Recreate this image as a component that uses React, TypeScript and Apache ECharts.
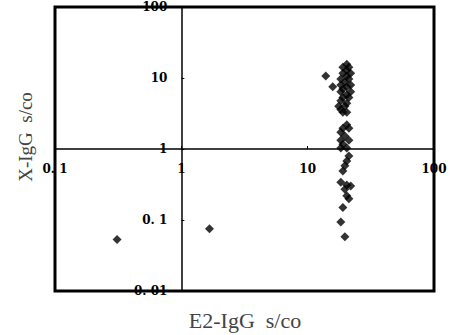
import React, { useEffect, useRef } from "react";
import * as echarts from "echarts";

const xTickLabels = ["0. 1", "1", "10", "100"];
const yTickLabels = ["0. 01", "0. 1", "1", "10", "100"];

// E2-IgG s/co values
const e2Values = [
  0.31, 1.67, 13.9, 15.8,
  20.4, 19.0, 21.2, 20.4, 19.0, 21.9, 20.4, 18.3, 21.2, 19.7, 21.9, 18.3, 20.4, 19.0, 21.9, 18.3,
  20.4, 19.0, 21.2, 18.3, 20.4, 17.6, 19.7, 18.3, 19.0, 20.4,
  20.4, 19.0, 21.2, 18.3, 19.7, 18.3, 21.2, 19.0, 20.4, 18.3,
  21.2, 20.4, 19.7, 19.0, 18.3, 20.4, 21.9, 19.7, 20.4, 21.2, 19.0, 18.3, 19.7,
];
// X-IgG s/co values
const xValues = [
  0.053, 0.075, 10.7, 7.5,
  15.6, 14.2, 14.2, 12.9, 11.7, 11.7, 10.7, 9.7, 9.7, 8.8, 8.0, 8.0, 7.5, 7.0, 6.4, 6.4,
  5.8, 5.3, 5.3, 4.8, 4.4, 4.0, 4.0, 3.6, 3.3, 3.3,
  2.2, 1.96, 1.96, 1.72, 1.52, 1.33, 1.33, 1.17, 1.03, 1.03,
  0.8, 0.68, 0.58, 0.49, 0.34, 0.31, 0.3, 0.27, 0.22, 0.2, 0.15, 0.094, 0.058,
];

const xAxisName = "E2-IgG  s/co";
const yAxisName = "X-IgG  s/co";

export default function App() {
  const ref = useRef<HTMLDivElement>(null);
  useEffect(() => {
    if (!ref.current) return;
    const chart = echarts.init(ref.current, null, { renderer: "svg" });
    const left = 55, right = 434, top = 7, bottom = 291;
    const xDec = (right - left) / 3;
    const yDec = (bottom - top) / 4;
    const x1 = left + xDec; // position of x = 1
    const y1 = top + 2 * yDec; // position of y = 1
    const tickFont = {
      fontFamily: "DejaVu Serif",
      fontWeight: "bold" as const,
      fontSize: 12,
      color: "#000",
    };
    const data = e2Values.map((v, i) => [v, xValues[i]]);
    chart.setOption({
      animation: false,
      backgroundColor: "#fff",
      grid: {
        left,
        top,
        right: 451 - right,
        bottom: 335 - bottom,
        show: true,
        borderColor: "#000",
        borderWidth: 3,
        backgroundColor: "transparent",
      },
      xAxis: {
        type: "log",
        logBase: 10,
        min: 0.1,
        max: 100,
        position: "bottom",
        offset: -(bottom - y1),
        axisLine: { show: true, lineStyle: { color: "#000", width: 1.5 } },
        axisTick: { show: true, inside: true, length: 3, lineStyle: { color: "#000" } },
        minorTick: { show: false },
        splitLine: { show: false },
        axisLabel: {
          ...tickFont,
          margin: 14,
          showMinLabel: true,
          showMaxLabel: true,
          formatter: (v: number) => xTickLabels[Math.round(Math.log10(v)) + 1],
        },
      },
      yAxis: {
        type: "log",
        logBase: 10,
        min: 0.01,
        max: 100,
        position: "left",
        offset: -(x1 - left),
        axisLine: { show: true, lineStyle: { color: "#000", width: 1.5 } },
        axisTick: { show: true, inside: true, length: 3, lineStyle: { color: "#000" } },
        minorTick: { show: false },
        splitLine: { show: false },
        axisLabel: {
          ...tickFont,
          margin: 14,
          showMinLabel: true,
          showMaxLabel: true,
          formatter: (v: number) => yTickLabels[Math.round(Math.log10(v)) + 2],
        },
      },
      graphic: [
        {
          type: "text",
          x: 245,
          y: 320,
          style: {
            text: xAxisName,
            fontFamily: "Liberation Serif",
            fontSize: 22,
            fill: "#444",
            align: "center",
            verticalAlign: "middle",
          },
        },
        {
          type: "text",
          x: 25,
          y: 137,
          rotation: Math.PI / 2,
          style: {
            text: yAxisName,
            fontFamily: "Liberation Serif",
            fontSize: 19,
            fill: "#444",
            align: "center",
            verticalAlign: "middle",
          },
        },
      ],
      series: [
        {
          type: "scatter",
          data,
          symbol: "diamond",
          symbolSize: 9,
          itemStyle: { color: "#000" },
        },
      ],
    });
    return () => chart.dispose();
  }, []);
  return (
    <div
      ref={ref}
      style={{ position: "absolute", left: 0, top: 0, width: 451, height: 335 }}
    />
  );
}
